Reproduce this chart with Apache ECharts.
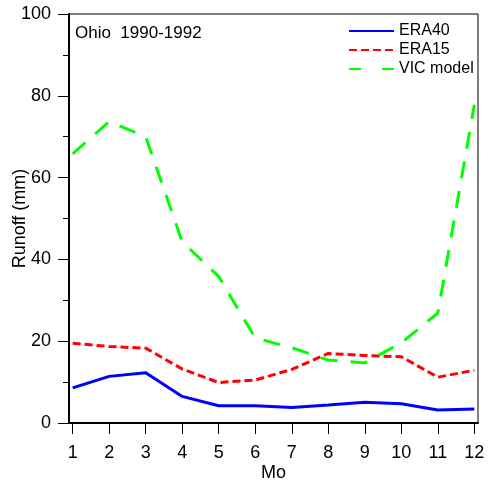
<!DOCTYPE html>
<html>
<head>
<meta charset="utf-8">
<script src="https://cdn.jsdelivr.net/npm/echarts@6/dist/echarts.min.js"></script>
<style>
  html, body { margin: 0; padding: 0; background: #fff; }
  #runoff { width: 488px; height: 484px; }
</style>
</head>
<body>
<div id="runoff"></div>
<script>
// monthly runoff, Ohio basin 1990-1992
var months = [1, 2, 3, 4, 5, 6, 7, 8, 9, 10, 11, 12];
var era40 = [8.6, 11.4, 12.3, 6.5, 4.2, 4.2, 3.8, 4.4, 5.1, 4.7, 3.2, 3.4];
var era15 = [19.5, 18.7, 18.3, 13.2, 9.9, 10.5, 13.1, 17.0, 16.5, 16.2, 11.2, 12.9];
var vic = [65.8, 73.7, 70.0, 44.3, 35.8, 20.8, 18.4, 15.4, 14.7, 19.6, 26.9, 77.8];
var seriesNames = ['ERA40', 'ERA15', 'VIC model'];

function pairs(vals) {
    var out = [];
    for (var i = 0; i < months.length; i++) {
        out.push([months[i], vals[i]]);
    }
    return out;
}

var font = 'Arial, "Liberation Sans", sans-serif';

var chart = echarts.init(document.getElementById('runoff'));

chart.setOption({
    animation: false,
    backgroundColor: '#ffffff',
    title: {
        text: 'Ohio  1990-1992',
        left: 70,
        top: 20,
        textStyle: {
            color: '#000',
            fontSize: 17,
            fontWeight: 'normal',
            fontFamily: font
        }
    },
    legend: {
        orient: 'vertical',
        left: 343,
        top: 18,
        itemWidth: 45,
        itemHeight: 14,
        itemGap: 3,
        itemStyle: {opacity: 0},
        textStyle: {
            color: '#000',
            fontSize: 16,
            fontFamily: font
        },
        data: [
            {name: 'ERA40'},
            {name: 'ERA15'},
            {name: 'VIC model', lineStyle: {type: [12, 21]}}
        ]
    },
    grid: {
        left: 69,
        top: 14,
        right: 10,
        bottom: 61,
        outerBoundsMode: 'none',
        containLabel: false,
        show: true,
        borderColor: '#000',
        borderWidth: 1
    },
    xAxis: {
        type: 'value',
        min: 0.9,
        max: 12.1,
        name: 'Mo',
        nameLocation: 'middle',
        nameGap: 41,
        nameMoveOverlap: false,
        nameTextStyle: {
            color: '#000',
            fontSize: 18,
            fontFamily: font
        },
        splitLine: {show: false},
        axisLine: {
            onZero: false,
            lineStyle: {color: '#000', width: 2}
        },
        axisTick: {
            customValues: months,
            length: 11,
            lineStyle: {color: '#000', width: 1}
        },
        axisLabel: {
            customValues: months,
            margin: 21,
            color: '#000',
            fontSize: 18,
            fontFamily: font
        }
    },
    yAxis: {
        type: 'value',
        min: 0,
        max: 100,
        interval: 20,
        name: 'Runoff (mm)',
        nameLocation: 'middle',
        nameGap: 40,
        nameMoveOverlap: false,
        nameTextStyle: {
            color: '#000',
            fontSize: 18,
            fontFamily: font
        },
        splitLine: {show: false},
        axisLine: {
            show: true,
            lineStyle: {color: '#000', width: 2}
        },
        axisTick: {
            show: true,
            length: 11,
            lineStyle: {color: '#000', width: 1}
        },
        minorTick: {
            show: true,
            splitNumber: 2,
            length: 6,
            lineStyle: {color: '#000', width: 1}
        },
        axisLabel: {
            margin: 18,
            color: '#000',
            fontSize: 18,
            fontFamily: font
        }
    },
    series: [
        {
            name: seriesNames[0],
            type: 'line',
            data: pairs(era40),
            symbol: 'none',
            itemStyle: {color: '#0000ff'},
            lineStyle: {color: '#0000ff', width: 3}
        },
        {
            name: seriesNames[1],
            type: 'line',
            data: pairs(era15),
            symbol: 'none',
            itemStyle: {color: '#ff0000'},
            lineStyle: {color: '#ff0000', width: 3, type: [8, 4]}
        },
        {
            name: seriesNames[2],
            type: 'line',
            data: pairs(vic),
            symbol: 'none',
            itemStyle: {color: '#00ff00'},
            lineStyle: {color: '#00ff00', width: 3, type: [17, 13]}
        }
    ]
});
</script>
</body>
</html>
